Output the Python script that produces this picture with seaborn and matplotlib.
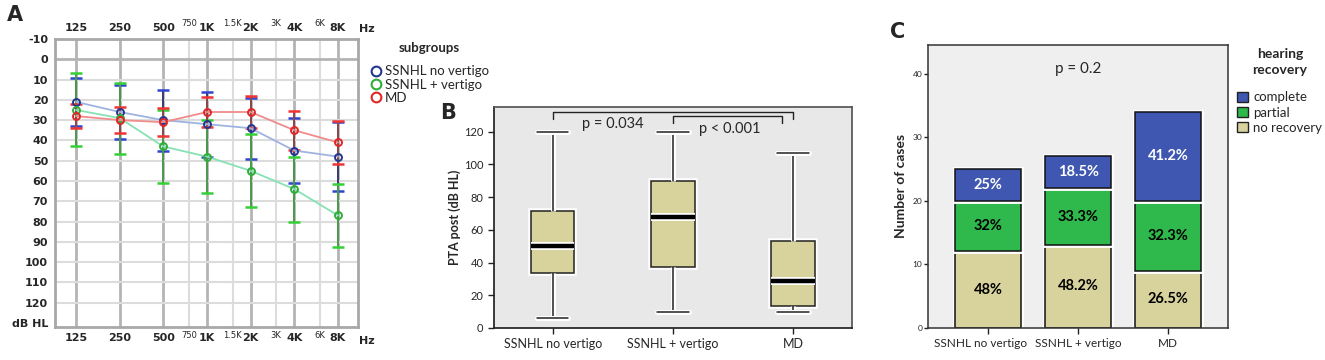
import matplotlib
matplotlib.use('Agg')
import numpy as np
import pandas as pd
import matplotlib.pyplot as plt
import matplotlib.patheffects as pe
from matplotlib.lines import Line2D
from matplotlib.patches import Patch
import matplotlib.transforms as mtransforms
import seaborn as sns

sns.set_theme(style='white')
plt.rcParams['font.family'] = ['Lato', 'DejaVu Sans']

# ---------- data ----------
groups = ['SSNHL no vertigo', 'SSNHL + vertigo', 'MD']

# A: audiogram (mean and SD, dB HL)
freqs = [125, 250, 500, 1000, 2000, 4000, 8000]
freq_labels = ['125', '250', '500', '1K', '2K', '4K', '8K']
mid_freqs = [750, 1500, 3000, 6000]
mid_labels = ['750', '1.5K', '3K', '6K']
mean_novert = [21, 26, 30, 32, 34, 45, 48]
sd_novert = [12, 13.5, 15, 16, 15, 16, 17]
mean_vert = [25, 29, 43, 48, 55, 64, 77]
sd_vert = [18, 17.5, 18, 18, 18, 16, 15.5]
mean_md = [28, 30, 31, 26, 26, 35, 41]
sd_md = [6, 6.5, 7, 7.5, 8, 9.5, 10.5]

# B: PTA post five-number summaries (min, Q1, median, Q3, max)
pta_novert = [6, 33.5, 50, 71.5, 119.5]
pta_vert = [9.5, 37.5, 67.5, 90, 120]
pta_md = [9.5, 13.5, 29, 53, 107]

# C: hearing recovery counts and labels
cnt_none = [12, 13, 9]
cnt_partial = [8, 9, 11]
cnt_complete = [5, 5, 14]
pct_none = ['48%', '48.2%', '26.5%']
pct_partial = ['32%', '33.3%', '32.3%']
pct_complete = ['25%', '18.5%', '41.2%']

fig = plt.figure(figsize=(13.25, 3.6), dpi=100)

# ---------- A: audiogram ----------
axA = fig.add_axes([0.0415, 0.0917, 0.2287, 0.80])
axA.set_xscale('log')
axA.set_xlim(89.5, 11000)
axA.set_ylim(132, -10)

for f in freqs:
    axA.axvline(f, color='#b4b4b4', lw=2, zorder=0)
for f in mid_freqs:
    axA.axvline(f, color='#dcdcdc', lw=1.5, zorder=0)
for v in range(10, 130, 10):
    axA.axhline(v, color='#dcdcdc', lw=1.5, zorder=0)
axA.axhline(0, color='#b4b4b4', lw=2, zorder=0)

series = [
    (mean_novert, sd_novert, '#9fb3e0', '#24368f', '#2f45d0', '#3a3a72'),
    (mean_vert, sd_vert, '#86e2b4', '#2fae3a', '#35d035', '#4b9a4b'),
    (mean_md, sd_md, '#f08c8c', '#e02626', '#f03434', '#8a4a4a'),
]
for m, s, lc, mc, cc, sc in series:
    _, caps, bars = axA.errorbar(freqs, m, yerr=s, fmt='none', ecolor=sc,
                                 elinewidth=1.4, capsize=4.5, capthick=1.8, zorder=2)
    for c in caps:
        c.set_color(cc)
        c.set_markeredgecolor(cc)
    sns.lineplot(x=freqs, y=m, ax=axA, color=lc, lw=1.3, marker='o',
                 markersize=5, markerfacecolor='none', markeredgecolor=mc,
                 markeredgewidth=1.4, zorder=3)

axA.set_xticks(freqs)
axA.set_xticklabels(freq_labels, fontsize=8, fontweight='bold', family='DejaVu Sans')
axA.xaxis.set_minor_locator(matplotlib.ticker.NullLocator())
axA.tick_params(axis='x', which='both', length=0, top=True, labeltop=True, pad=4)
yt = list(range(-10, 130, 10)) + [130]
axA.set_yticks(yt)
axA.set_yticklabels([str(v) for v in range(-10, 130, 10)] + ['dB HL'],
                    fontsize=8, fontweight='bold', family='DejaVu Sans')
axA.tick_params(axis='y', length=0, pad=5)
axA.set_xlabel('')
axA.set_ylabel('')
tr = mtransforms.blended_transform_factory(axA.transData, axA.transAxes)
for f, lab in zip(mid_freqs, mid_labels):
    axA.text(f, 1.055, lab, transform=tr, ha='center', va='center', fontsize=6,
             family='DejaVu Sans')
    axA.text(f, -0.03, lab, transform=tr, ha='center', va='center', fontsize=6,
             family='DejaVu Sans')
fig.text(367 / 1325, 1 - 29 / 360, 'Hz', ha='center', va='center', fontsize=8,
         fontweight='bold', family='DejaVu Sans')
fig.text(367 / 1325, 1 - 341 / 360, 'Hz', ha='center', va='center', fontsize=8,
         fontweight='bold', family='DejaVu Sans')
for sp in axA.spines.values():
    sp.set_color('#a8a8a8')
    sp.set_linewidth(2)
fig.text(15 / 1325, 1 - 15 / 360, 'A', fontsize=15, fontweight='bold',
         family='DejaVu Sans', ha='center', va='center')

handlesA = [Line2D([], [], ls='none', marker='o', markersize=7, markerfacecolor='none',
                   markeredgecolor=c, markeredgewidth=1.5)
            for c in ['#24368f', '#2fae3a', '#e02626']]
fig.text(429 / 1325, 1 - 48 / 360, 'subgroups', ha='center', va='center',
         fontsize=9.5, fontweight='bold')
legA = fig.legend(handlesA, groups, loc='upper left',
                  bbox_to_anchor=(363 / 1325, 1 - 60 / 360), frameon=False,
                  fontsize=9.5, handletextpad=0.05, labelspacing=0.1,
                  borderaxespad=0, handlelength=1.2)

# ---------- B: boxplot ----------
axB = fig.add_axes([0.3728, 0.0889, 0.2702, 0.6139])
dfB = pd.DataFrame({
    'group': [groups[0]] * 5 + [groups[1]] * 5 + [groups[2]] * 5,
    'pta': pta_novert + pta_vert + pta_md,
})
sns.boxplot(data=dfB, x='group', y='pta', ax=axB, width=0.36, color='#d8d29c',
            saturation=1, linecolor='#222222', linewidth=1.1, whis=1.5,
            medianprops=dict(color='black', linewidth=3.2), capwidths=0.26)
for p in axB.patches:
    p.set_path_effects([pe.withStroke(linewidth=4, foreground='white')])
for ln in axB.lines:
    ln.set_path_effects([pe.withStroke(linewidth=ln.get_linewidth() + 2.5, foreground='white')])
axB.set_facecolor('#e8e8e8')
axB.set_xlim(-0.49, 2.49)
axB.set_ylim(0, 135)
axB.set_yticks(range(0, 121, 20))
axB.tick_params(axis='y', labelsize=8, length=4, width=1, color='#222222', left=True)
axB.tick_params(axis='x', labelsize=9, length=4, width=1, color='#222222', bottom=True)
axB.set_xlabel('')
axB.set_ylabel('PTA post (dB HL)', fontsize=9, fontweight='bold', labelpad=2)
for k in ['left', 'bottom']:
    axB.spines[k].set_color('#222222')
for k in ['top', 'right']:
    axB.spines[k].set_color('#555555')
# significance brackets
axB.plot([0, 0, 2, 2], [127.4, 131.7, 131.7, 127.4], color='#222222', lw=1)
axB.plot([1, 1, 1.91, 1.91], [125, 129.3, 129.3, 125], color='#222222', lw=1)
axB.text(0.5, 124.4, 'p = 0.034', ha='center', va='center', fontsize=10.5)
axB.text(1.47, 121.3, 'p < 0.001', ha='center', va='center', fontsize=10.5)
fig.text(448 / 1325, 1 - 113 / 360, 'B', fontsize=15, fontweight='bold',
         family='DejaVu Sans', ha='center', va='center')

# ---------- C: stacked bars ----------
axC = fig.add_axes([0.7004, 0.0897, 0.2264, 0.7853])
col_none, col_partial, col_complete = '#d8d29c', '#2fb84c', '#3f57b0'
bottoms = np.zeros(3)
layers = [(cnt_none, col_none, pct_none, 'black'),
          (cnt_partial, col_partial, pct_partial, 'black'),
          (cnt_complete, col_complete, pct_complete, 'white')]
for cnt, col, pct, tc in layers:
    sns.barplot(x=groups, y=cnt, bottom=bottoms, ax=axC, color=col, saturation=1,
                width=0.74, edgecolor='#111111', linewidth=1.1, zorder=2)
    for i in range(3):
        axC.text(i, bottoms[i] + cnt[i] / 2, pct[i], ha='center', va='center',
                 fontsize=10.5, fontweight='bold', color=tc, zorder=4)
    bottoms = bottoms + np.array(cnt)
for p in axC.patches:
    p.set_path_effects([pe.withStroke(linewidth=3.5, foreground='white')])
axC.set_facecolor('#efefef')
axC.set_xlim(-0.67, 2.67)
axC.set_ylim(0, 44.5)
axC.set_yticks([0, 10, 20, 30, 40])
axC.tick_params(axis='y', labelsize=6, length=3, width=1, color='#222222', left=True, pad=1)
axC.tick_params(axis='x', labelsize=8.5, length=4, width=1, color='#222222', bottom=True)
# first label sits a little left of its bar, as in the source figure
shift = mtransforms.ScaledTranslation(-8 / 100, 0, fig.dpi_scale_trans)
lab0 = axC.get_xticklabels()[0]
lab0.set_transform(lab0.get_transform() + shift)
axC.set_ylabel('Number of cases', fontsize=10, fontweight='bold')
axC.set_xlabel('')
for sp in axC.spines.values():
    sp.set_color('#333333')
    sp.set_linewidth(1.1)
axC.text(1, 40.7, 'p = 0.2', ha='center', va='center', fontsize=11)
fig.text(898 / 1325, 1 - 32 / 360, 'C', fontsize=15, fontweight='bold',
         family='DejaVu Sans', ha='center', va='center')

handlesC = [Patch(facecolor=c, edgecolor='#222222', linewidth=1)
            for c in [col_complete, col_partial, col_none]]
fig.text(1280 / 1325, 1 - 62 / 360, 'hearing\nrecovery', ha='center', va='center',
         fontsize=10, fontweight='bold', linespacing=1.5)
legC = fig.legend(handlesC, ['complete', 'partial', 'no recovery'],
                  loc='upper left', bbox_to_anchor=(1232 / 1325, 1 - 86 / 360),
                  frameon=False, fontsize=9.5, handlelength=0.8, handleheight=0.8,
                  handletextpad=0.4, labelspacing=0.25, borderaxespad=0)

fig.savefig('out.png', dpi=100)
